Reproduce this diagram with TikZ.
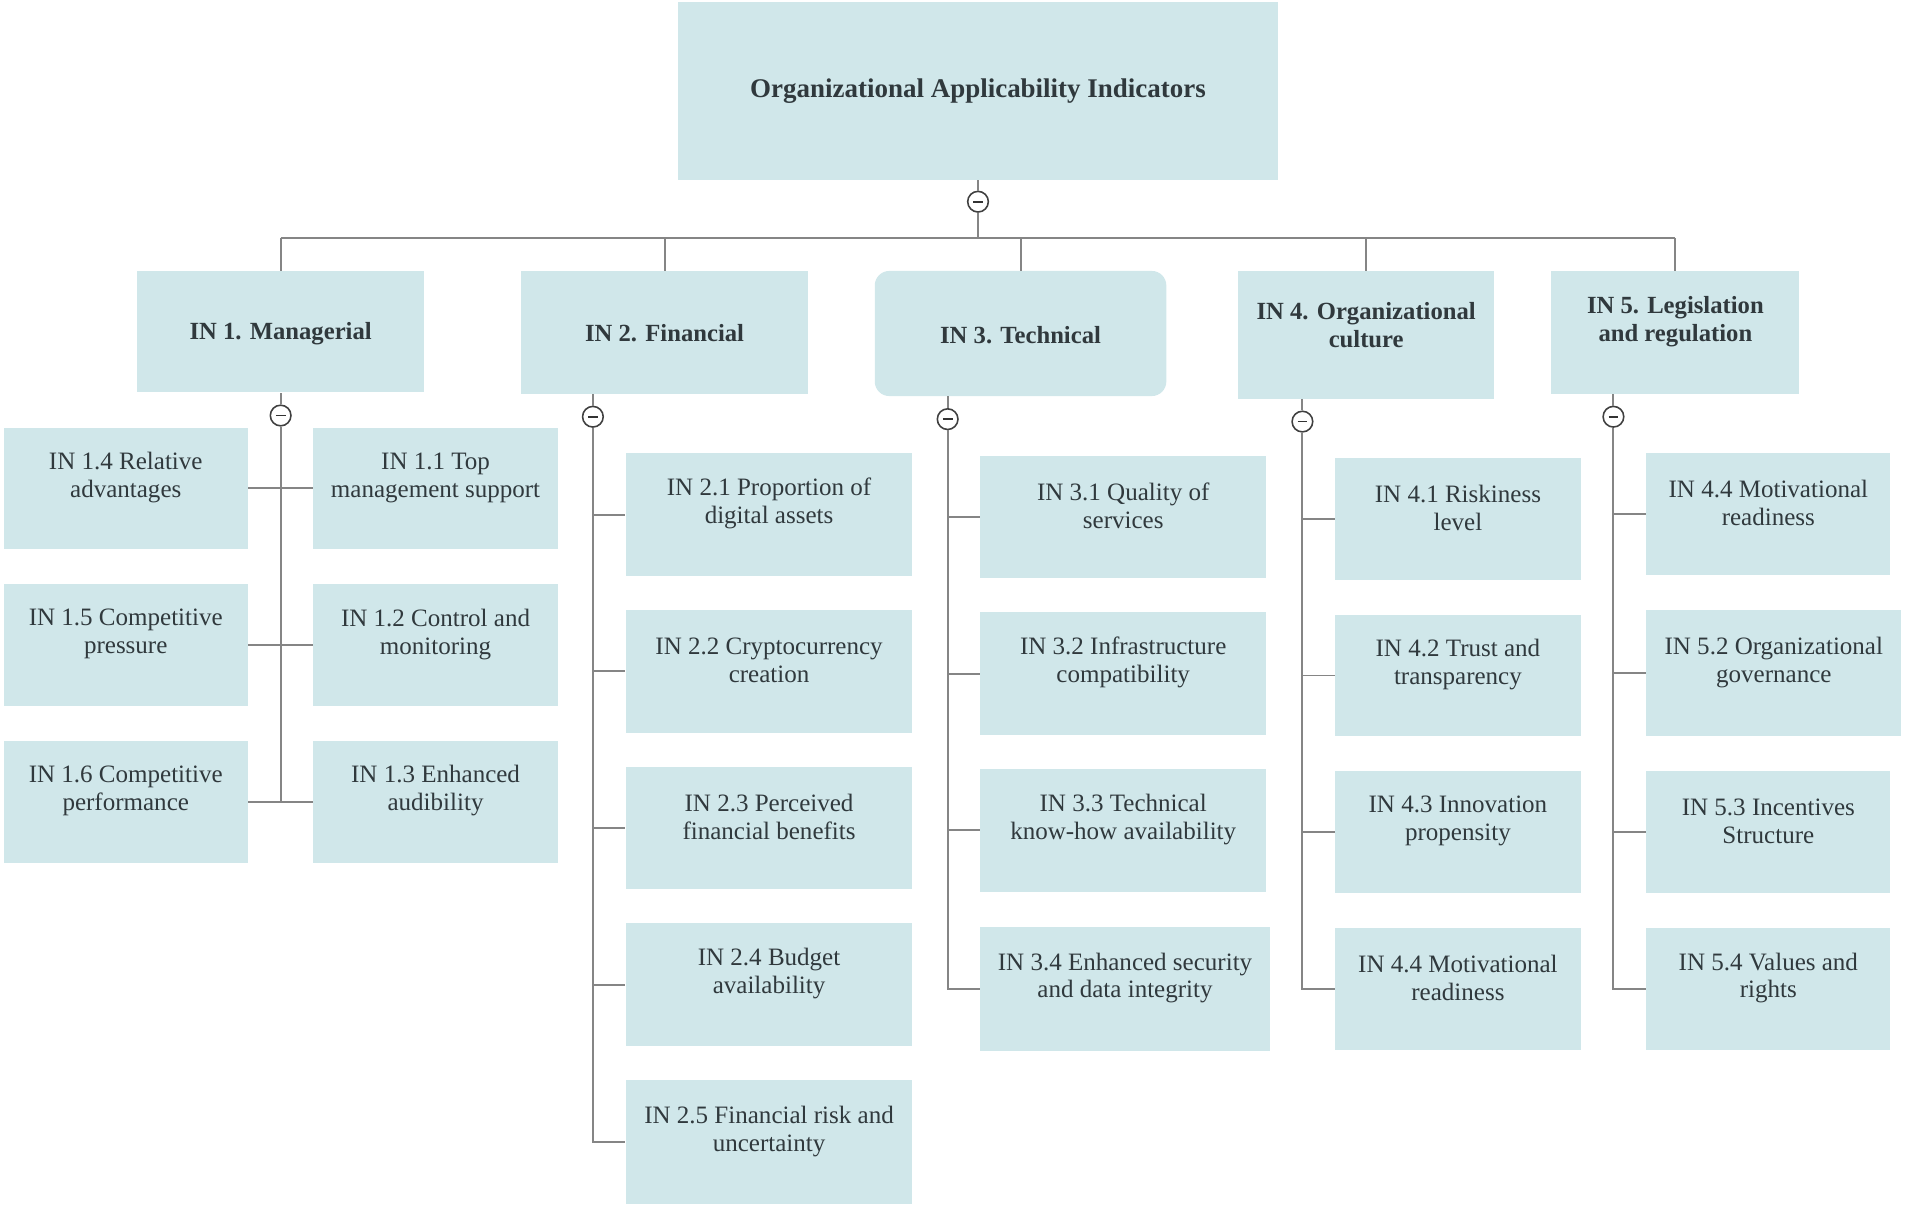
\documentclass[tikz,border=0pt]{standalone}
\usepackage{fontspec}
\setmainfont{LiberationSerif}[Extension=.ttf, UprightFont=*-Regular, BoldFont=*-Bold, ItalicFont=*-Italic, BoldItalicFont=*-BoldItalic]
\definecolor{boxfill}{HTML}{D0E7EA}
\definecolor{linecol}{HTML}{858585}
\definecolor{txtcol}{HTML}{30393D}
\tikzset{
  box/.style={fill=boxfill, draw=none, inner sep=0pt},
  txt/.style={text=txtcol, align=center, inner sep=0pt, font=\fontsize{20.6}{23}\selectfont},
  btxt/.style={txt, font=\fontsize{20.3}{23}\selectfont\bfseries},
  rtxt/.style={txt, font=\fontsize{22.2}{25}\selectfont\bfseries},
  conn/.style={draw=linecol, line width=1.6pt},
  tog/.style={circle, draw=black!75, line width=1.3pt, fill=white, minimum size=17pt, inner sep=0pt},
}
\newcommand\ibox[7]{% name, x1, y1, x2, y2, text-shift, text
  \node[box, minimum width={(#4-#2)*1pt}, minimum height={(#5-#3)*1pt}] (#1) at ({(#2+#4)/2},{(#3+#5)/2}) {};
  \node[txt] (#1t) at ([yshift=#6pt]#1.center) {#7};}
\newcommand\headbox[7]{% bold version
  \node[box, minimum width={(#4-#2)*1pt}, minimum height={(#5-#3)*1pt}] (#1) at ({(#2+#4)/2},{(#3+#5)/2}) {};
  \node[btxt] (#1t) at ([yshift=#6pt]#1.center) {#7};}
\newcommand\togg[3]{% name, x, y
  \node[tog] (#1) at (#2,#3) {};
  \draw[black!80, line width=1.4pt] ([xshift=-4pt]#1.center) -- ([xshift=4pt]#1.center);}
\begin{document}
\begin{tikzpicture}[x=1pt,y=-1pt]
\useasboundingbox (0,0) rectangle (1568,996);
% root
\node[box, minimum width=494pt, minimum height=146pt] (root) at (805,75) {};
\node[rtxt] (roott) at ([yshift=0pt]root.center) {Organizational Applicability Indicators};
% level 1
\headbox{a}{113}{223}{349}{323}{-2}{IN 1. Managerial}
\headbox{b}{429}{223}{665}{324}{-1}{IN 2. Financial}
\node[box, rounded corners=12pt, minimum width=240pt, minimum height=103pt] (c) at (840,274.5) {};
\node[btxt] (ct) at ([yshift=-1pt]c.center) {IN 3. Technical};
\headbox{d}{1019}{223}{1230}{328}{8}{IN 4. Organizational\\culture}
\headbox{e}{1277}{223}{1481}{324}{9}{IN 5. Legislation\\and regulation}
% level 2 : IN 1
\ibox{a4}{3}{352}{204}{452}{9}{IN 1.4 Relative\\advantages}
\ibox{a1}{258}{352}{459}{452}{9}{IN 1.1 Top\\management support}
\ibox{a5}{3}{481}{204}{581}{9}{IN 1.5 Competitive\\pressure}
\ibox{a2}{258}{481}{459}{581}{9}{IN 1.2 Control and\\monitoring}
\ibox{a6}{3}{610}{204}{710}{9}{IN 1.6 Competitive\\performance}
\ibox{a3}{258}{610}{459}{710}{9}{IN 1.3 Enhanced\\audibility}
% IN 2
\ibox{b1}{515}{373}{751}{474}{9}{IN 2.1 Proportion of\\digital assets}
\ibox{b2}{515}{502}{751}{603}{9}{IN 2.2 Cryptocurrency\\creation}
\ibox{b3}{515}{631}{751}{732}{9}{IN 2.3 Perceived\\financial benefits}
\ibox{b4}{515}{760}{751}{861}{9}{IN 2.4 Budget\\availability}
\ibox{b5}{515}{889}{751}{991}{9}{IN 2.5 Financial risk and\\uncertainty}
% IN 3
\ibox{c1}{807}{375}{1042}{476}{9}{IN 3.1 Quality of\\services}
\ibox{c2}{807}{504}{1042}{605}{9}{IN 3.2 Infrastructure\\compatibility}
\ibox{c3}{807}{633}{1042}{734}{9}{IN 3.3 Technical\\know-how availability}
\ibox{c4}{807}{763}{1045}{865}{9}{IN 3.4 Enhanced security\\and data integrity}
% IN 4
\ibox{d1}{1099}{377}{1301}{477}{9}{IN 4.1 Riskiness\\level}
\ibox{d2}{1099}{506}{1301}{606}{9}{IN 4.2 Trust and\\transparency}
\ibox{d3}{1099}{635}{1301}{735}{9}{IN 4.3 Innovation\\propensity}
\ibox{d4}{1099}{764}{1301}{864}{9}{IN 4.4 Motivational\\readiness}
% IN 5
\ibox{e1}{1355}{373}{1556}{473}{9}{IN 4.4 Motivational\\readiness}
\ibox{e2}{1355}{502}{1565}{606}{9}{IN 5.2 Organizational\\governance}
\ibox{e3}{1355}{635}{1556}{735}{9}{IN 5.3 Incentives\\Structure}
\ibox{e4}{1355}{764}{1556}{864}{9}{IN 5.4 Values and\\rights}
% toggles
\togg{t0}{805}{166}
\togg{ta}{231}{342}
\togg{tb}{488}{343}
\togg{tc}{780}{345}
\togg{td}{1072}{347}
\togg{te}{1328}{343}
% top connectors
\coordinate (barL) at (231,196);
\coordinate (barR) at (1379,196);
\draw[conn] (root.south) -- (t0.north);
\draw[conn] (t0.south) -- (t0.south |- barL);
\draw[conn] (barL) -- (barR);
\foreach \n in {a,b,c,d,e} \draw[conn] (\n.north) -- (\n.north |- barL);
% level-1 to toggles
\foreach \n in {a,b,c,d,e} \draw[conn] (t\n.north) -- (t\n.north |- \n.south);
% IN 1 children
\draw[conn] (ta.south) -- (ta.south |- a6.east);
\draw[conn] (a4.east) -- (a1.west);
\draw[conn] (a5.east) -- (a2.west);
\draw[conn] (a6.east) -- (a3.west);
% IN 2 .. IN 5 children
\draw[conn] (tb.south) |- (b5.west);
\foreach \i in {1,2,3,4} \draw[conn] (tb.south |- b\i.west) -- (b\i.west);
\draw[conn] (tc.south) |- (c4.west);
\foreach \i in {1,2,3} \draw[conn] (tc.south |- c\i.west) -- (c\i.west);
\draw[conn] (td.south) |- (d4.west);
\foreach \i in {1,2,3} \draw[conn] (td.south |- d\i.west) -- (d\i.west);
\draw[conn] (te.south) |- (e4.west);
\foreach \i in {1,2,3} \draw[conn] (te.south |- e\i.west) -- (e\i.west);
\end{tikzpicture}
\end{document}
